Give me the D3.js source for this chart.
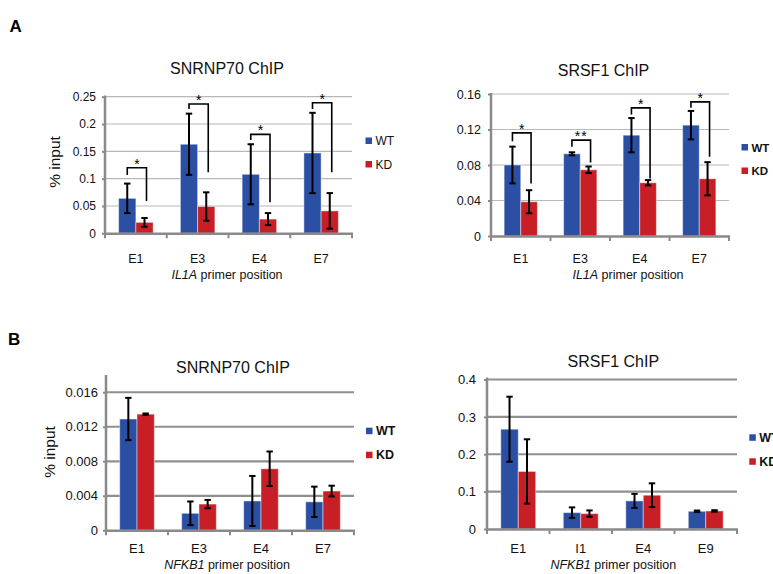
<!DOCTYPE html>
<html>
<head>
<meta charset="utf-8">
<script src="https://cdn.jsdelivr.net/npm/d3@7/dist/d3.min.js"></script>
<style>
  html, body { margin: 0; padding: 0; background: #fff; }
  svg { display: block; font-family: "Liberation Sans", Arial, Helvetica, sans-serif; }
</style>
</head>
<body>
<svg id="chart" width="773" height="574"></svg>
<script>
// ---------- DATA ----------
const seriesNames = ["WT", "KD"];

// Panel A, left: SNRNP70 ChIP, IL1A
const a1Categories = ["E1", "E3", "E4", "E7"];
const a1WT    = [0.064, 0.163, 0.108, 0.147];
const a1WTErr = [0.027, 0.056, 0.055, 0.0735];
const a1KD    = [0.020, 0.049, 0.026, 0.041];
const a1KDErr = [0.008, 0.026, 0.011, 0.0326];
const a1Ticks = [0, 0.05, 0.1, 0.15, 0.2, 0.25];
const a1BracketTop   = [0.120, 0.2366, 0.181, 0.239];
const a1BracketLeft  = [0.1067, 0.2274, 0.1707, 0.2274];
const a1BracketRight = [0.0591, 0.1116, 0.0567, 0.1116];
const a1Stars = ["*", "*", "*", "*"];

// Panel A, right: SRSF1 ChIP, IL1A
const a2Categories = ["E1", "E3", "E4", "E7"];
const a2WT    = [0.080, 0.0926, 0.1136, 0.1249];
const a2WTErr = [0.0207, 0.0017, 0.0193, 0.016];
const a2KD    = [0.0386, 0.0746, 0.060, 0.0645];
const a2KDErr = [0.013, 0.0037, 0.003, 0.0187];
const a2Ticks = [0, 0.04, 0.08, 0.12, 0.16];
const a2BracketTop   = [0.1162, 0.108, 0.1444, 0.1511];
const a2BracketLeft  = [0.1069, 0.1005, 0.1369, 0.1444];
const a2BracketRight = [0.0592, 0.0829, 0.0649, 0.0892];
const a2Stars = ["*", "**", "*", "*"];

// Panel B, left: SNRNP70 ChIP, NFKB1
const b1Categories = ["E1", "E3", "E4", "E7"];
const b1WT    = [0.0129, 0.00197, 0.0034, 0.0033];
const b1WTErr = [0.00245, 0.00137, 0.0029, 0.00176];
const b1KD    = [0.01346, 0.00304, 0.00713, 0.00455];
const b1KDErr = [0.00008, 0.00048, 0.002, 0.00062];
const b1Ticks = [0, 0.004, 0.008, 0.012, 0.016];

// Panel B, right: SRSF1 ChIP, NFKB1
const b2Categories = ["E1", "I1", "E4", "E9"];
const b2WT    = [0.267, 0.0438, 0.0752, 0.0474];
const b2WTErr = [0.087, 0.014, 0.0188, 0.002];
const b2KD    = [0.154, 0.0412, 0.0904, 0.0483];
const b2KDErr = [0.086, 0.0085, 0.0318, 0.002];
const b2Ticks = [0, 0.1, 0.2, 0.3, 0.4];

// ---------- STYLE ----------
const colors = { WT: "#2B4FA3", KD: "#C81E26" };
const FONT = "'Liberation Sans', Arial, Helvetica, sans-serif";

const svg = d3.select("#chart");
svg.append("rect").attr("width", 773).attr("height", 574).attr("fill", "#fff");

function drawPanel(cfg) {
  const g = svg.append("g");
  const x = d3.scaleBand().domain(cfg.categories).range([cfg.left, cfg.right]).paddingInner(0).paddingOuter(0);
  const y = d3.scaleLinear().domain([0, cfg.domainMax]).range([cfg.zeroY, cfg.topY]);
  const sub = d3.scaleBand().domain(seriesNames).range([0, x.bandwidth()]).paddingInner(0).paddingOuter(0.79);

  // gridlines
  g.append("g").selectAll("line").data(cfg.ticks.filter(t => t > 0)).join("line")
    .attr("x1", cfg.left).attr("x2", cfg.right)
    .attr("y1", d => y(d)).attr("y2", d => y(d))
    .attr("stroke", cfg.gridColor).attr("stroke-width", cfg.gridWidth);

  // bars
  const rows = cfg.categories.map((c, i) => ({
    cat: c,
    vals: [
      { s: "WT", v: cfg.wt[i], e: cfg.wtErr[i] },
      { s: "KD", v: cfg.kd[i], e: cfg.kdErr[i] }
    ]
  }));
  const cg = g.append("g").selectAll("g").data(rows).join("g")
    .attr("transform", d => `translate(${x(d.cat)},0)`);
  cg.selectAll("rect").data(d => d.vals).join("rect")
    .attr("x", d => sub(d.s)).attr("width", sub.bandwidth())
    .attr("y", d => y(d.v)).attr("height", d => y(0) - y(d.v))
    .attr("fill", d => colors[d.s])
    .attr("stroke", "#ffffff").attr("stroke-opacity", 0.45).attr("stroke-width", 1);

  // error bars
  const eb = cg.selectAll("g.err").data(d => d.vals).join("g").attr("class", "err");
  const cx = d => sub(d.s) + sub.bandwidth() / 2;
  eb.append("line").attr("x1", cx).attr("x2", cx)
    .attr("y1", d => y(d.v + d.e)).attr("y2", d => y(d.v - d.e))
    .attr("stroke", "#000").attr("stroke-width", 2);
  [1, -1].forEach(sgn => {
    eb.append("line").attr("x1", d => cx(d) - 3.2).attr("x2", d => cx(d) + 3.2)
      .attr("y1", d => y(d.v + sgn * d.e)).attr("y2", d => y(d.v + sgn * d.e))
      .attr("stroke", "#000").attr("stroke-width", 2);
  });

  // significance brackets
  if (cfg.bracketTop) {
    cfg.categories.forEach((c, i) => {
      const xl = x(c) + sub("WT") + sub.bandwidth() / 2;
      const xr = x(c) + sub("KD") + sub.bandwidth() / 2 + 2;
      const yt = y(cfg.bracketTop[i]);
      g.append("path")
        .attr("d", `M${xl},${y(cfg.bracketLeft[i])}V${yt}H${xr}V${y(cfg.bracketRight[i])}`)
        .attr("fill", "none").attr("stroke", "#000").attr("stroke-width", 1.6);
      g.append("text").attr("x", (xl + xr) / 2).attr("y", yt + 1)
        .attr("text-anchor", "middle").attr("font-size", 14).attr("font-family", FONT)
        .attr("letter-spacing", cfg.stars[i].length > 1 ? 1 : 0)
        .text(cfg.stars[i]);
    });
  }

  // y axis
  const ya = g.append("g").attr("transform", `translate(${cfg.left},0)`)
    .call(d3.axisLeft(y).tickValues(cfg.ticks).tickFormat(d => String(d)).tickSize(3).tickPadding(cfg.tickPad));
  ya.select(".domain").remove();
  ya.selectAll(".tick line").attr("stroke", "#8a8a8a").attr("stroke-width", 2);
  ya.selectAll(".tick text").attr("font-size", cfg.tickFont).attr("font-family", FONT).attr("fill", "#111");
  g.append("line").attr("x1", cfg.left).attr("x2", cfg.left)
    .attr("y1", cfg.axisTopY).attr("y2", cfg.zeroY + 1.5)
    .attr("stroke", "#8a8a8a").attr("stroke-width", 2.5);

  // x axis
  g.append("line").attr("x1", cfg.left - 1).attr("x2", cfg.right + 1)
    .attr("y1", cfg.zeroY + 0.5).attr("y2", cfg.zeroY + 0.5)
    .attr("stroke", "#8a8a8a").attr("stroke-width", 2.5);
  const bounds = cfg.categories.map(c => x(c)).concat([cfg.right]);
  g.append("g").selectAll("line").data(bounds).join("line")
    .attr("x1", d => d).attr("x2", d => d)
    .attr("y1", cfg.zeroY).attr("y2", cfg.zeroY + 5)
    .attr("stroke", "#8a8a8a").attr("stroke-width", 2);
  const xa = g.append("g").attr("transform", `translate(0,${cfg.zeroY})`)
    .call(d3.axisBottom(x).tickSize(0).tickPadding(0));
  xa.select(".domain").remove();
  xa.selectAll(".tick text").attr("font-size", cfg.catFont).attr("font-family", FONT).attr("fill", "#111")
    .attr("dy", null).attr("y", cfg.catBaseline - cfg.zeroY);

  // titles
  g.append("text").attr("x", cfg.titleX).attr("y", cfg.titleY).attr("text-anchor", "middle")
    .attr("font-size", 16).attr("font-family", FONT).attr("fill", "#111").text(cfg.title);
  const xt = g.append("text").attr("x", cfg.xTitleX).attr("y", cfg.xTitleY).attr("text-anchor", "middle")
    .attr("font-size", 12.5).attr("font-family", FONT).attr("fill", "#111");
  xt.append("tspan").attr("font-style", "italic").text(cfg.gene);
  xt.append("tspan").text(" primer position");
  if (cfg.yLabel) {
    g.append("text").attr("transform", `translate(${cfg.yLabelX},${cfg.yLabelY}) rotate(-90)`)
      .attr("text-anchor", "middle").attr("font-size", 15.5).attr("font-family", FONT).attr("fill", "#111")
      .text(cfg.yLabel);
  }

  // legend
  seriesNames.forEach((s, i) => {
    const ly = cfg.legendY + i * cfg.legendGap;
    g.append("rect").attr("x", cfg.legendX).attr("y", ly).attr("width", 6.5).attr("height", 6.5).attr("fill", colors[s]);
    g.append("text").attr("x", cfg.legendX + 10).attr("y", ly + 7.5)
      .attr("font-size", cfg.legendFont).attr("font-weight", cfg.legendBold ? "bold" : "normal")
      .attr("font-family", FONT).attr("fill", "#111").text(s);
  });
}

drawPanel({
  categories: a1Categories, wt: a1WT, wtErr: a1WTErr, kd: a1KD, kdErr: a1KDErr, ticks: a1Ticks,
  bracketTop: a1BracketTop, bracketLeft: a1BracketLeft, bracketRight: a1BracketRight, stars: a1Stars,
  domainMax: 0.25, left: 105, right: 352, zeroY: 233.3, topY: 96.7, axisTopY: 95.5,
  gridColor: "#b8b8b8", gridWidth: 1.2, tickFont: 12, tickPad: 6, catFont: 12.5, catBaseline: 263,
  title: "SNRNP70 ChIP", titleX: 227, titleY: 74, gene: "IL1A", xTitleX: 227, xTitleY: 279,
  yLabel: "% input", yLabelX: 60, yLabelY: 162,
  legendX: 365.5, legendY: 137.5, legendGap: 23.5, legendFont: 12, legendBold: false
});
drawPanel({
  categories: a2Categories, wt: a2WT, wtErr: a2WTErr, kd: a2KD, kdErr: a2KDErr, ticks: a2Ticks,
  bracketTop: a2BracketTop, bracketLeft: a2BracketLeft, bracketRight: a2BracketRight, stars: a2Stars,
  domainMax: 0.16, left: 491, right: 729, zeroY: 236, topY: 94, axisTopY: 93,
  gridColor: "#b8b8b8", gridWidth: 1.2, tickFont: 12.5, tickPad: 7, catFont: 12.5, catBaseline: 263,
  title: "SRSF1 ChIP", titleX: 603.5, titleY: 76, gene: "IL1A", xTitleX: 628, xTitleY: 279,
  yLabel: null,
  legendX: 741.5, legendY: 144, legendGap: 23.5, legendFont: 11.5, legendBold: true
});
drawPanel({
  categories: b1Categories, wt: b1WT, wtErr: b1WTErr, kd: b1KD, kdErr: b1KDErr, ticks: b1Ticks,
  domainMax: 0.018, left: 106, right: 354, zeroY: 530.3, topY: 375, axisTopY: 375,
  gridColor: "#8f8f8f", gridWidth: 2.2, tickFont: 13, tickPad: 5, catFont: 13, catBaseline: 553,
  title: "SNRNP70 ChIP", titleX: 233, titleY: 372.7, gene: "NFKB1", xTitleX: 227, xTitleY: 568.5,
  yLabel: "% input", yLabelX: 55, yLabelY: 452,
  legendX: 366, legendY: 427.7, legendGap: 24, legendFont: 12.5, legendBold: true
});
drawPanel({
  categories: b2Categories, wt: b2WT, wtErr: b2WTErr, kd: b2KD, kdErr: b2KDErr, ticks: b2Ticks,
  domainMax: 0.4, left: 487, right: 737, zeroY: 529, topY: 379.5, axisTopY: 377.5,
  gridColor: "#8f8f8f", gridWidth: 2.2, tickFont: 13, tickPad: 8, catFont: 13, catBaseline: 552.5,
  title: "SRSF1 ChIP", titleX: 613.3, titleY: 366.7, gene: "NFKB1", xTitleX: 613.3, xTitleY: 568.5,
  yLabel: null,
  legendX: 749.3, legendY: 434.3, legendGap: 24, legendFont: 12.5, legendBold: true
});

// panel letters
svg.append("text").attr("x", 9.5).attr("y", 31.7).attr("font-size", 17).attr("font-weight", "bold")
  .attr("font-family", FONT).text("A");
svg.append("text").attr("x", 8).attr("y", 345).attr("font-size", 17).attr("font-weight", "bold")
  .attr("font-family", FONT).text("B");
</script>
</body>
</html>
